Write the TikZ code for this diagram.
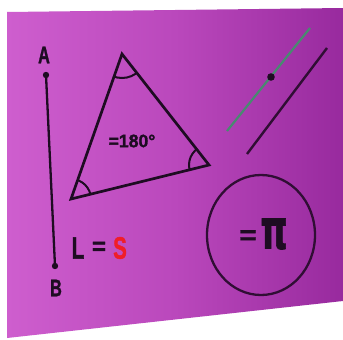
\documentclass[tikz,border=0pt]{standalone}
\usepackage{fontspec}
\usetikzlibrary{shapes.geometric}
\setmainfont{Liberation Sans}
\newfontfamily\heavy{Liberation Sans}[UprightFont={* Bold}, FakeBold=1.5]
\newfontfamily\pifont{DejaVu Sans}[UprightFont={* Bold}, FakeBold=1.5]
\definecolor{boardL}{RGB}{206,94,206}
\definecolor{boardM}{RGB}{186,72,188}
\definecolor{boardR}{RGB}{152,42,158}
\definecolor{ink}{RGB}{30,12,34}
\definecolor{inkline}{RGB}{48,14,52}
\definecolor{teal}{RGB}{72,138,112}
\definecolor{sred}{RGB}{240,30,40}
\tikzset{
  seg/.style={draw=ink, line width=2.3pt},
  lbl/.style={font=\heavy\fontsize{24}{24}\selectfont, text=ink, inner sep=0pt, xscale=0.68},
  big/.style={font=\heavy\fontsize{31}{31}\selectfont, inner sep=0pt, xscale=0.66},
  dotmark/.style={fill=ink},
}
\begin{document}
\begin{tikzpicture}[x=1pt,y=-1pt]
\useasboundingbox (0,0) rectangle (343,340);
\fill[white] (0,0) rectangle (343,340);
% board
\shade[left color=boardL, right color=boardR, middle color=boardM]
  (7,12) -- (343,8) -- (343,301) -- (7,338) -- cycle;
% segment AB
\coordinate (pA) at (46,75);
\coordinate (pB) at (55,266);
\draw[seg] (pA) -- (pB);
\fill[dotmark] (pA) circle (3.2);
\fill[dotmark] (pB) circle (3.2);
\node[lbl] (labA) at (44,55) {A};
\node[lbl] (labB) at (56,288) {B};
% triangle
\coordinate (tT) at (122,54);
\coordinate (tL) at (71,199);
\coordinate (tR) at (209,165);
\draw[seg, line width=2.7pt, line join=miter] (tT) -- (tL) -- (tR) -- cycle;
\begin{scope}
  \clip (tT) -- (tL) -- (tR) -- cycle;
  \draw[draw=ink, line width=2pt] (tT) circle (24);
  \draw[draw=ink, line width=2pt] (tL) circle (20);
  \draw[draw=ink, line width=2pt] (tR) circle (20);
\end{scope}
\node[font=\heavy\fontsize{18}{18}\selectfont, text=ink, inner sep=0pt, xscale=0.98] (sum) at (132,141) {=180°};
% parallel lines
\coordinate (g1) at (227,131);
\coordinate (g2) at (310,28);
\coordinate (gp) at (271,77);
\draw[draw=teal, line width=2.2pt] (g1) -- (g2);
\fill[dotmark] (gp) circle (3.8);
\coordinate (d1) at (247,154);
\coordinate (d2) at (327,48);
\draw[draw=inkline, line width=2.4pt] (d1) -- (d2);
% circle
\node[draw=inkline, line width=2.3pt, ellipse, minimum width=108pt, minimum height=120pt, inner sep=0pt] (circ) at (261,235) {};
\node[font=\heavy\fontsize{26}{26}\selectfont, text=ink, inner sep=0pt, xscale=1.15] (eqpi) at (248,237) {=};
\node[font=\pifont\fontsize{42}{42}\selectfont, text=ink, inner sep=0pt, xscale=0.82, yscale=1.3] (pi) at (274,234) {π};
% L = S
\node[big, text=ink] (Lt) at (78,248) {L};
\node[font=\heavy\fontsize{24}{24}\selectfont, text=ink, inner sep=0pt] (eqt) at (99,248) {=};
\node[big, text=sred] (St) at (120,248) {S};
\end{tikzpicture}
\end{document}
